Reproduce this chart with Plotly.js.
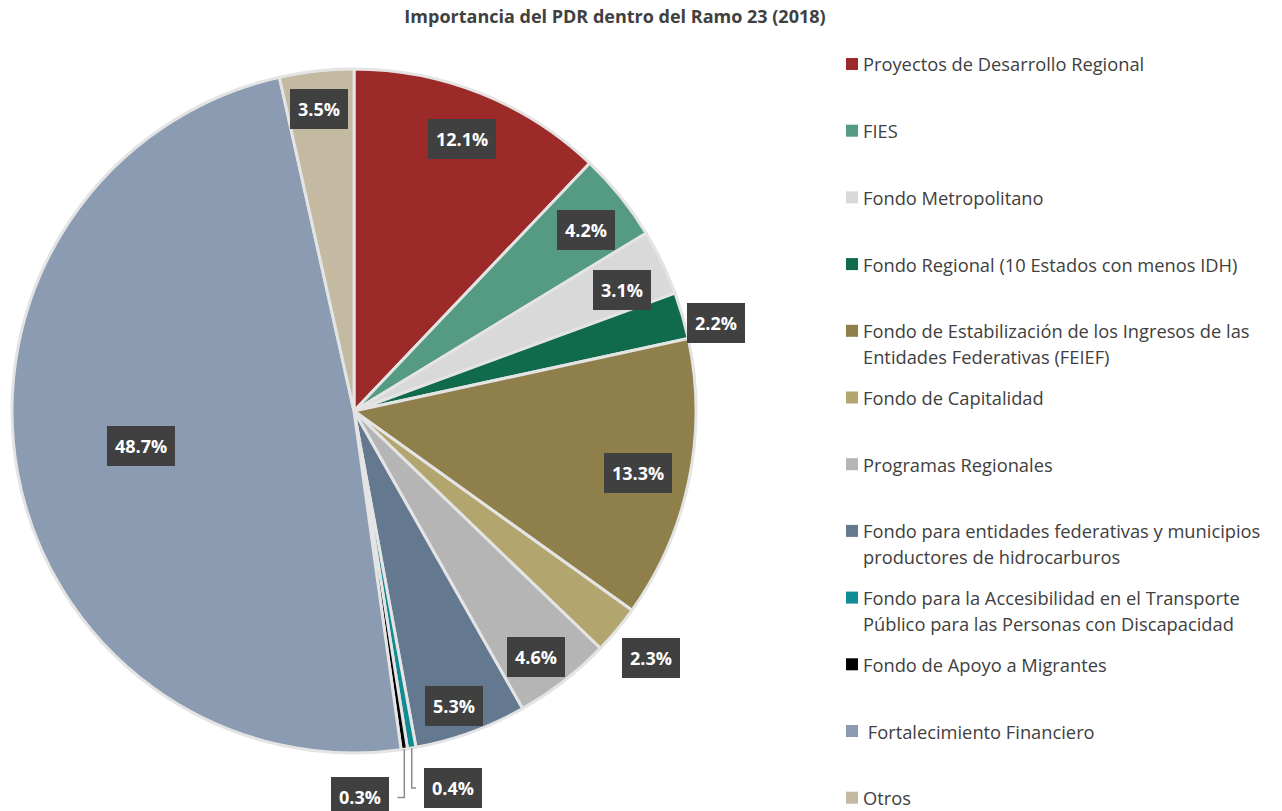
<!DOCTYPE html>
<html>
<head>
<meta charset="utf-8">
<script src="https://cdn.plot.ly/plotly-3.0.1.min.js"></script>
<style>html,body{margin:0;padding:0;background:#fff;}#chart{width:1282px;height:811px;}</style>
</head>
<body>
<div id="chart"></div>
<script>
// ---- data ----
const categories = [
  ["Proyectos de Desarrollo Regional"],
  ["FIES"],
  ["Fondo Metropolitano"],
  ["Fondo Regional (10 Estados con menos IDH)"],
  ["Fondo de Estabilización de los Ingresos de las", "Entidades Federativas (FEIEF)"],
  ["Fondo de Capitalidad"],
  ["Programas Regionales"],
  ["Fondo para entidades federativas y municipios", "productores de hidrocarburos"],
  ["Fondo para la Accesibilidad en el Transporte", "Público para las Personas con Discapacidad"],
  ["Fondo de Apoyo a Migrantes"],
  ["\u00a0Fortalecimiento Financiero"],
  ["Otros"]
];
const values = [12.1, 4.2, 3.1, 2.2, 13.3, 2.3, 4.6, 5.3, 0.4, 0.3, 48.7, 3.5];
const colors = ["#9b2a29", "#559a82", "#d9d9d9", "#0f6b4c", "#8e7f4b", "#b3a56e",
                "#b5b5b5", "#64788f", "#108a93", "#000000", "#8b9bb1", "#c4b9a1"];

// ---- label placement style (radius factor, angle shift deg, leader) ----
const labelStyle = [
  [0.855, 0], [0.86, 1], [0.86, 1.5], [1.09, 2.6], [0.85, 0.6], [1.13, 0],
  [0.895, 1.3], [0.91, 1.3], [1.14, -5, 'right'], [1.13, 7.5, 'left'], [0.63, 0.9], [0.89, -0.3]
];

const W = 1282, H = 811;
const cx = 354, cy = 411, R = 342;
const px = x => x / W, py = y => 1 - y / H;

const total = values.reduce((a, b) => a + b, 0);
const annotations = [];
const shapes = [];
let cum = 0;
values.forEach((v, i) => {
  const midFrac = (cum + v / 2) / total;
  cum += v;
  const st = labelStyle[i];
  const ang = (midFrac * 360 + st[1]) * Math.PI / 180;
  const lx = cx + st[0] * R * Math.sin(ang);
  const ly = cy - st[0] * R * Math.cos(ang);
  annotations.push({
    xref: 'paper', yref: 'paper', x: px(lx), y: py(ly),
    xanchor: 'center', yanchor: 'middle', showarrow: false,
    text: '<b>' + v.toFixed(1) + '%</b>',
    font: {family: 'Open Sans', size: 18, color: '#ffffff'},
    bgcolor: '#404040', bordercolor: '#404040', borderwidth: 1, borderpad: 7
  });
  if (st[2]) {
    const ma = midFrac * 2 * Math.PI;
    const ex = cx + R * Math.sin(ma), ey = cy - R * Math.cos(ma);
    const hx = st[2] === 'right' ? lx - 37 : lx + 37;
    shapes.push({
      type: 'path', xref: 'paper', yref: 'paper',
      path: `M ${px(ex)} ${py(ey)} L ${px(ex)} ${py(ly)} L ${px(hx)} ${py(ly)}`,
      line: {color: '#8c8c8c', width: 1.5}
    });
  }
});

// legend (custom)
const legX = 846, legY0 = 64, legStep = 66.7, lineH = 26;
categories.forEach((lines, i) => {
  const y = legY0 + i * legStep;
  shapes.push({
    type: 'rect', xref: 'paper', yref: 'paper',
    x0: px(legX), x1: px(legX + 12), y0: py(y - 6), y1: py(y + 6),
    fillcolor: colors[i], line: {width: 0}
  });
  lines.forEach((t, j) => {
    annotations.push({
      xref: 'paper', yref: 'paper', x: px(legX + 15), y: py(y + j * lineH),
      xanchor: 'left', yanchor: 'middle', showarrow: false, text: t,
      font: {family: 'Open Sans', size: 18.3, color: '#404040'}
    });
  });
});

const trace = {
  type: 'pie',
  values: values,
  labels: categories.map(l => l.join(' ')),
  marker: {colors: colors, line: {color: '#e4e4e4', width: 3}},
  sort: false,
  direction: 'clockwise',
  rotation: 0,
  textinfo: 'none',
  hoverinfo: 'label+percent',
  showlegend: false,
  domain: {x: [px(cx - R), px(cx + R)], y: [py(cy + R), py(cy - R)]}
};

const layout = {
  width: W, height: H,
  margin: {l: 0, r: 0, t: 0, b: 0},
  paper_bgcolor: '#ffffff',
  showlegend: false,
  title: {
    text: '<b>Importancia del PDR dentro del Ramo 23 (2018)</b>',
    x: px(615), xanchor: 'center', y: py(17), yanchor: 'middle',
    font: {family: 'Open Sans', size: 18, color: '#404040'}
  },
  annotations: annotations,
  shapes: shapes
};

Plotly.newPlot('chart', [trace], layout, {displayModeBar: false});
</script>
</body>
</html>
